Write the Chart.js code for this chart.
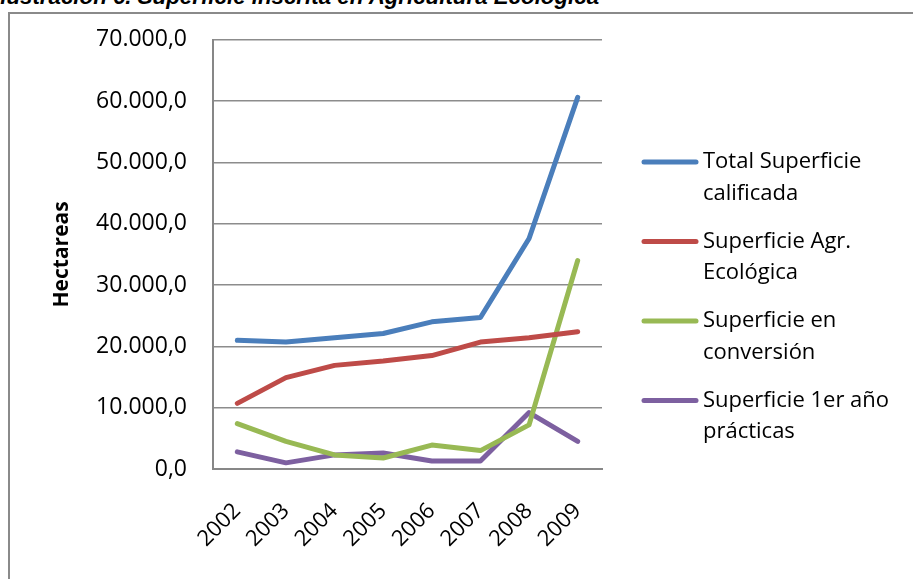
<!DOCTYPE html>
<html>
<head>
<meta charset="utf-8">
<script src="https://cdn.jsdelivr.net/npm/chart.js@4.4.1/dist/chart.umd.min.js"></script>
<style>
  html, body { margin: 0; padding: 0; background: #fff; overflow: hidden; }
  #wrap { position: relative; width: 913px; height: 579px; overflow: hidden; }
  #frame { position: absolute; left: 8px; top: 12px; width: 1000px; height: 700px;
           border-left: 2px solid #8a8a8a; border-top: 2px solid #8a8a8a; }
  #title { position: absolute; left: -6px; top: -14px; white-space: nowrap;
           font: italic bold 22.3px "Liberation Sans", Arial, sans-serif; line-height: 22px; color: #000; }
  #chart { position: absolute; left: 0; top: 0; }
</style>
</head>
<body>
<div id="wrap">
  <div id="frame"></div>
  <div id="title">Ilustración 6. Superficie inscrita en Agricultura Ecológica</div>
  <canvas id="chart" width="913" height="579"></canvas>
</div>
<script>
// Superficie inscrita en agricultura ecológica (hectáreas)
const years = ['2002', '2003', '2004', '2005', '2006', '2007', '2008', '2009'];

const totalCalificada = [21000, 20700, 21400, 22100, 24000, 24700, 37600, 60600];
const agrEcologica    = [10700, 14900, 16900, 17600, 18500, 20700, 21400, 22400];
const enConversion    = [7400, 4500, 2300, 1800, 3900, 3000, 7200, 34000];
const primerAnio      = [2800, 1000, 2300, 2600, 1300, 1300, 9200, 4500];

const seriesNames = [
  ['Total Superficie', 'calificada'],
  ['Superficie Agr.', 'Ecológica'],
  ['Superficie en', 'conversión'],
  ['Superficie 1er año', 'prácticas']
];
const seriesColors = ['#4a7ebb', '#be4b48', '#98b954', '#7d60a0'];

const yMax = 70000;
const yStep = 10000;

function fmtEs(v) {
  // 70000 -> "70.000,0"
  const s = Math.round(v).toString().replace(/\B(?=(\d{3})+(?!\d))/g, '.');
  return s + ',0';
}

// legend drawn by hand: labels are two lines each
const sideLegend = {
  id: 'sideLegend',
  afterDraw(chart) {
    const ctx = chart.ctx;
    ctx.save();
    ctx.font = '22px "Open Sans"';
    ctx.textBaseline = 'middle';
    ctx.textAlign = 'left';
    chart.data.datasets.forEach((ds, i) => {
      const y = 162 + i * 79.5;
      ctx.strokeStyle = ds.borderColor;
      ctx.lineWidth = 5;
      ctx.lineCap = 'round';
      ctx.beginPath();
      ctx.moveTo(644, y);
      ctx.lineTo(696, y);
      ctx.stroke();
      ctx.fillStyle = '#000';
      seriesNames[i].forEach((line, j) => {
        ctx.fillText(line, 703, y + j * 31.5);
      });
    });
    ctx.restore();
  }
};

const allSeries = [totalCalificada, agrEcologica, enConversion, primerAnio];

new Chart(document.getElementById('chart'), {
  type: 'line',
  data: {
    labels: years,
    datasets: allSeries.map((vals, i) => ({
      label: seriesNames[i].join(' '),
      data: vals,
      borderColor: seriesColors[i],
      backgroundColor: seriesColors[i],
      borderWidth: 5,
      borderCapStyle: 'round',
      borderJoinStyle: 'round',
      pointRadius: 0,
      tension: 0,
      fill: false
    }))
  },
  options: {
    responsive: false,
    animation: false,
    devicePixelRatio: 1,
    layout: { padding: { left: 0, right: 311, top: 39, bottom: 0 } },
    plugins: {
      legend: { display: false },
      tooltip: { enabled: false }
    },
    scales: {
      x: {
        offset: true,
        grid: { display: false, drawTicks: false },
        border: { color: '#878787', width: 2 },
        ticks: {
          color: '#000',
          font: { family: 'Open Sans', size: 22 },
          minRotation: 45,
          maxRotation: 45,
          padding: 29
        },
        afterFit(scale) { scale.height = 110; }
      },
      y: {
        min: 0,
        max: yMax,
        grid: { color: '#8c8c8c', lineWidth: 1.5, drawTicks: false },
        border: { color: '#878787', width: 2 },
        ticks: {
          stepSize: yStep,
          color: '#000',
          font: { family: 'Open Sans', size: 23 },
          padding: 26,
          callback: (v) => fmtEs(v)
        },
        title: {
          display: true,
          text: 'Hectareas',
          color: '#000',
          font: { family: 'Open Sans', size: 21, weight: 'bold' },
          padding: { top: 49, bottom: 0 }
        },
        afterFit(scale) { scale.width = 213; }
      }
    }
  },
  plugins: [sideLegend]
});
</script>
</body>
</html>
